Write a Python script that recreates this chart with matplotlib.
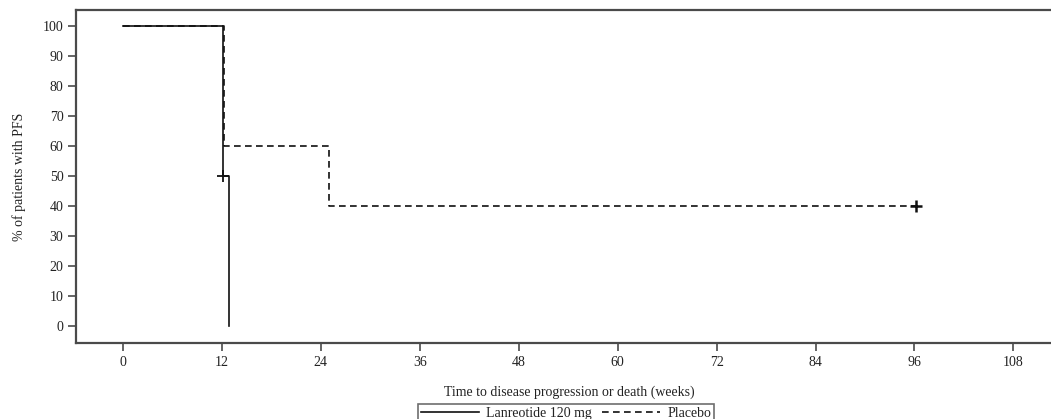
import matplotlib
matplotlib.use('Agg')
import matplotlib.pyplot as plt

# Kaplan-Meier style step data (weeks, % PFS)
lan_t = [0, 12.15, 12.15, 12.9]
lan_s = [100, 75, 50, 0]
lan_cens_t = [12.15]
lan_cens_s = [50]

pla_t = [0, 12.2, 25.0, 96.2]
pla_s = [100, 60, 40, 40]
pla_cens_t = [96.2]
pla_cens_s = [40]

xticks = [0, 12, 24, 36, 48, 60, 72, 84, 96, 108]
yticks = [0, 10, 20, 30, 40, 50, 60, 70, 80, 90, 100]

plt.rcParams['font.family'] = ['Liberation Serif', 'DejaVu Serif']
txt = '#222222'
spine = '#4a4a4a'

fig = plt.figure(figsize=(10.51, 4.19), dpi=100)
ax = fig.add_axes([76 / 1051, 1 - 343 / 419, (1062 - 76) / 1051, (343 - 10) / 419])

ax.step(lan_t, lan_s, where='post', color='#111111', lw=1.2, label='Lanreotide 120 mg')
ax.step(pla_t, pla_s, where='post', color='#111111', lw=1.2, dashes=(4, 2.6),
        label='Placebo')
ax.plot(lan_cens_t, lan_cens_s, '+', color='#111111', ms=8, mew=1.3)
ax.plot(pla_cens_t, pla_cens_s, '+', color='#111111', ms=8, mew=1.8)

ax.set_xlim(-5.7, 113.9)
ax.set_ylim(-5.7, 105.3)
ax.set_xticks(xticks)
ax.set_yticks(yticks)
ax.tick_params(direction='out', length=6, width=1.2, color=spine,
               labelsize=10, labelcolor=txt, pad=3)
for s in ax.spines.values():
    s.set_color(spine)
    s.set_linewidth(1.6)

ax.set_xlabel('Time to disease progression or death (weeks)', fontsize=10,
              color=txt, labelpad=12)
ax.set_ylabel('% of patients with PFS', fontsize=10, color=txt, labelpad=12)

h, l = ax.get_legend_handles_labels()
leg = fig.legend(h, l, loc='upper center', ncol=2,
                 bbox_to_anchor=(566 / 1051, 1 - 404 / 419),
                 frameon=True, fancybox=False, fontsize=10, handlelength=4.2,
                 borderpad=0.2, columnspacing=0.7, handletextpad=0.5,
                 borderaxespad=0)
leg.get_frame().set_edgecolor(spine)
leg.get_frame().set_linewidth(1.2)
for t in leg.get_texts():
    t.set_color(txt)

fig.savefig('out.png', dpi=100)
